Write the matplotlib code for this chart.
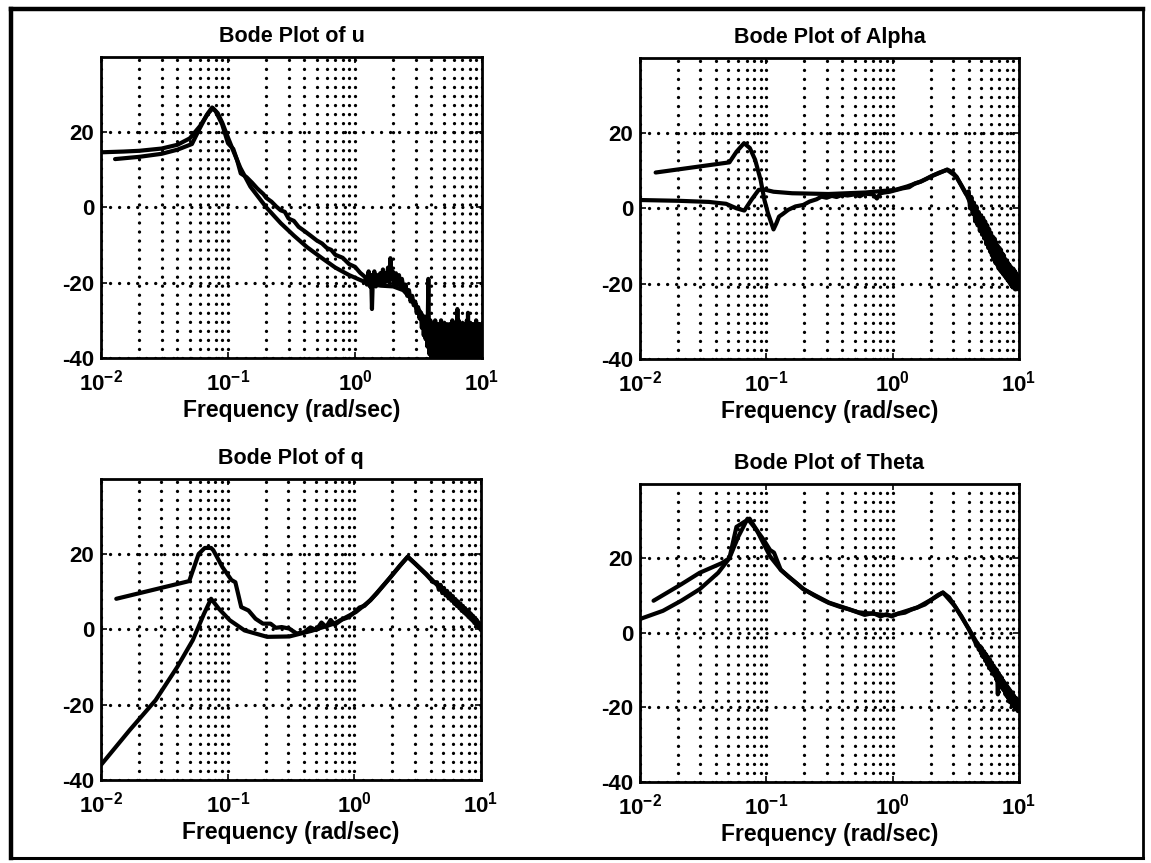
import matplotlib
matplotlib.use("Agg")
import matplotlib.pyplot as plt
from matplotlib.lines import Line2D
from matplotlib.ticker import FixedLocator, LogLocator, NullFormatter

plt.rcParams["font.family"] = ["Liberation Sans", "DejaVu Sans"]
plt.rcParams["font.weight"] = "bold"
plt.rcParams["mathtext.fontset"] = "custom"
plt.rcParams["mathtext.rm"] = "Liberation Sans:bold"
plt.rcParams["mathtext.bf"] = "Liberation Sans:bold"
plt.rcParams["mathtext.it"] = "Liberation Sans:bold:italic"
plt.rcParams["mathtext.default"] = "bf"

# (freq rad/s, magnitude dB)
u_model = [(0.01, 14.6), (0.015, 14.8), (0.02, 15.0), (0.03, 15.6), (0.04, 16.6), (0.05, 18.3),
           (0.06, 21.5), (0.07, 25.0), (0.076, 26.3), (0.083, 25.0), (0.09, 22.5), (0.1, 18.5),
           (0.11, 15.0), (0.125, 10.5), (0.15, 5.5), (0.2, 0.0), (0.26, -4.2), (0.33, -7.5),
           (0.42, -10.6), (0.55, -13.5), (0.7, -16.0), (0.9, -18.0), (1.1, -19.3), (1.3, -20.3),
           (1.6, -20.8), (2.0, -21.0), (2.4, -22.0), (2.8, -24.5), (3.3, -28.0), (4.0, -33.0),
           (5.0, -38.0), (6.0, -41.0)]
u_data = [(0.0129, 12.8), (0.02, 13.4), (0.03, 14.2), (0.04, 15.3), (0.052, 16.8), (0.06, 21.0),
          (0.068, 24.5), (0.075, 26.5), (0.08, 25.5), (0.09, 22.0), (0.1, 17.0), (0.11, 15.5),
          (0.118, 12.5), (0.126, 9.0), (0.14, 8.0), (0.155, 6.5), (0.17, 5.0), (0.19, 3.5),
          (0.2, 2.5), (0.22, 1.5), (0.24, 0.2), (0.26, -0.8), (0.28, -1.2), (0.3, -3.0),
          (0.33, -3.6), (0.36, -5.2), (0.4, -6.3), (0.45, -7.6), (0.5, -8.8), (0.55, -9.6),
          (0.6, -10.8), (0.65, -11.3), (0.7, -12.6), (0.8, -13.4), (0.9, -15.1), (1.0, -15.8),
          (1.1, -17.4), (1.20, -18.5), (1.24, -20.5), (1.28, -17.0), (1.31, -21.0), (1.34, -18.0),
          (1.36, -27.0), (1.38, -19.5), (1.42, -17.0), (1.46, -21.0), (1.50, -18.0), (1.54, -20.5),
          (1.58, -17.5), (1.62, -20.0), (1.66, -16.5), (1.70, -20.5), (1.74, -17.5), (1.78, -19.5),
          (1.82, -16.0), (1.86, -20.0), (1.90, -13.5), (1.94, -19.0), (1.98, -17.0), (2.04, -20.5),
          (2.10, -17.5), (2.16, -20.5), (2.22, -18.0), (2.28, -21.0), (2.34, -19.0), (2.42, -22.0),
          (2.50, -20.5), (2.58, -23.5), (2.66, -22.0), (2.74, -25.0), (2.82, -23.5), (2.90, -26.0),
          (2.98, -25.0), (3.06, -28.0), (3.14, -26.5), (3.22, -29.5),
          (3.30, -28), (3.36, -32), (3.42, -29), (3.48, -34), (3.54, -29), (3.60, -35), (3.66, -30),
          (3.72, -37), (3.78, -19), (3.82, -33), (3.86, -39), (3.92, -30), (3.98, -40), (4.04, -31),
          (4.10, -41), (4.16, -32), (4.22, -41), (4.28, -30), (4.34, -41), (4.40, -32), (4.46, -41),
          (4.52, -31), (4.58, -41), (4.64, -33), (4.70, -41), (4.76, -30), (4.82, -41), (4.88, -32),
          (4.94, -41), (5.00, -31), (5.07, -41), (5.14, -33), (5.21, -41), (5.28, -31), (5.35, -41),
          (5.42, -33), (5.49, -41), (5.56, -31), (5.63, -41), (5.70, -32), (5.77, -41), (5.84, -30),
          (5.91, -41), (5.98, -33), (6.05, -41), (6.12, -31), (6.19, -41), (6.26, -32), (6.33, -41),
          (6.40, -27), (6.47, -41), (6.54, -30), (6.61, -41), (6.68, -31), (6.75, -41), (6.82, -33),
          (6.89, -41), (6.96, -31), (7.04, -41), (7.12, -32), (7.20, -41), (7.28, -31), (7.36, -41),
          (7.44, -33), (7.52, -41), (7.60, -30), (7.68, -41), (7.76, -28), (7.84, -41), (7.92, -31),
          (8.00, -41), (8.09, -32), (8.18, -41), (8.27, -31), (8.36, -41), (8.45, -33), (8.54, -41),
          (8.63, -31), (8.72, -41), (8.81, -32), (8.90, -41), (8.99, -30), (9.08, -41), (9.17, -33),
          (9.26, -41), (9.35, -31), (9.44, -41), (9.53, -32), (9.62, -41), (9.71, -31), (9.80, -41),
          (9.90, -33), (10.0, -38)]

alpha_model = [(0.01, 2.2), (0.02, 2.0), (0.035, 1.7), (0.048, 1.2), (0.058, 0.0), (0.067, -0.6),
               (0.076, 2.2), (0.087, 4.9), (0.096, 5.0), (0.114, 4.4), (0.16, 4.0), (0.31, 3.8),
               (0.61, 4.2), (1.05, 4.9), (1.3, 5.8), (1.67, 7.1), (2.05, 8.6), (2.35, 9.5),
               (2.7, 10.2), (3.2, 8.4), (3.8, 4.0), (4.6, -2.2), (5.6, -8.4), (6.9, -13.8),
               (8.4, -18.0), (10.0, -21.0)]
alpha_data = [(0.0133, 9.5), (0.051, 12.2), (0.058, 15.0), (0.0666, 17.3), (0.074, 16.0),
              (0.0815, 12.9), (0.09, 7.6), (0.0966, 2.2), (0.103, -1.3), (0.114, -5.6),
              (0.12, -4.0), (0.126, -2.2), (0.135, -1.5), (0.149, -0.4), (0.17, 0.5), (0.196, 0.9),
              (0.22, 1.8), (0.25, 2.4), (0.273, 3.1), (0.3, 2.8), (0.33, 3.3), (0.36, 3.0),
              (0.4, 3.6), (0.44, 3.4), (0.5, 3.7), (0.55, 3.2), (0.6, 3.9), (0.7, 3.7), (0.75, 2.6),
              (0.8, 4.0), (0.86, 4.2), (0.95, 4.4), (1.05, 4.8), (1.2, 5.3), (1.35, 5.6), (1.5, 6.6),
              (1.67, 7.1), (1.85, 7.8), (2.05, 8.6), (2.35, 9.4), (2.7, 10.3), (3.0, 9.5), (3.2, 8.3),
              (3.5, 6.0), (3.8, 3.8), (4.0, 4.5), (4.1, 0.0), (4.2, 3.0), (4.3, -1.5), (4.4, 1.5),
              (4.5, -3.5), (4.6, 0.5), (4.7, -4.5), (4.8, -1.0), (4.9, -6.0), (5.0, -2.0), (5.1, -7.0),
              (5.2, -2.5), (5.3, -8.0), (5.4, -3.5), (5.5, -9.5), (5.6, -4.5), (5.7, -10.5),
              (5.8, -5.5), (5.9, -11.5), (6.0, -6.5), (6.1, -12.5), (6.2, -7.5), (6.3, -13.5),
              (6.4, -8.0), (6.5, -14.5), (6.6, -9.0), (6.7, -15.0), (6.8, -10.0), (6.9, -16.0),
              (7.0, -10.5), (7.1, -16.5), (7.2, -11.0), (7.3, -17.0), (7.4, -12.0), (7.5, -17.5),
              (7.6, -12.5), (7.7, -18.0), (7.8, -13.5), (7.9, -18.5), (8.0, -14.0), (8.1, -19.0),
              (8.2, -14.5), (8.3, -19.5), (8.4, -15.0), (8.5, -20.0), (8.6, -15.5), (8.7, -20.5),
              (8.8, -16.0), (8.9, -21.0), (9.0, -16.0), (9.1, -21.0), (9.2, -16.5), (9.3, -21.5),
              (9.4, -17.0), (9.5, -21.5), (9.6, -17.5), (9.7, -21.0), (9.8, -18.0), (9.9, -21.5),
              (10.0, -19.5)]

q_model = [(0.01, -36.0), (0.0169, -26.7), (0.027, -18.8), (0.04, -10.0), (0.053, -2.9),
           (0.065, 4.1), (0.074, 8.1), (0.085, 5.5), (0.104, 2.4), (0.136, -0.3), (0.205, -2.0),
           (0.307, -1.9), (0.46, -0.4), (0.69, 1.5), (1.03, 4.6), (1.34, 7.7), (1.88, 13.4),
           (2.64, 19.3), (3.7, 14.7), (5.1, 9.9), (7.2, 5.0), (10.0, 0.6)]
q_data = [(0.0132, 8.1), (0.0497, 12.8), (0.059, 20.0), (0.066, 21.6), (0.074, 21.6), (0.077, 21.0),
          (0.091, 16.5), (0.107, 13.1), (0.115, 12.5), (0.128, 5.9), (0.146, 5.0), (0.166, 2.8),
          (0.19, 1.5), (0.218, 1.5), (0.24, 0.4), (0.267, 0.6), (0.306, 0.2), (0.35, -1.1),
          (0.4, -0.8), (0.45, 0.5), (0.5, -0.2), (0.55, 1.8), (0.6, 0.6), (0.65, 2.5), (0.7, 1.2),
          (0.8, 2.6), (0.9, 3.2), (1.0, 4.5), (1.1, 5.8), (1.2, 6.2), (1.34, 7.8), (1.5, 9.5),
          (1.88, 13.4), (2.3, 17.0), (2.64, 19.2), (3.0, 17.5), (3.7, 14.5), (4.2, 12.5),
          (4.5, 12.5), (4.65, 10.5), (4.8, 11.8), (4.95, 9.6), (5.1, 11.0), (5.25, 9.0), (5.4, 10.2),
          (5.55, 8.2), (5.7, 9.5), (5.85, 7.6), (6.0, 8.8), (6.15, 6.8), (6.3, 8.0), (6.45, 6.2),
          (6.6, 7.4), (6.75, 5.6), (6.9, 6.8), (7.05, 4.9), (7.2, 6.2), (7.35, 4.4), (7.5, 5.6),
          (7.65, 3.9), (7.8, 5.0), (7.95, 3.3), (8.1, 4.6), (8.25, 2.8), (8.4, 4.0), (8.55, 2.3),
          (8.7, 3.5), (8.85, 1.7), (9.0, 3.0), (9.15, 1.2), (9.3, 2.4), (9.45, 0.7), (9.6, 1.8),
          (9.75, 0.2), (9.9, 1.2), (10.0, -0.2)]

theta_model = [(0.01, 3.7), (0.0152, 5.9), (0.0212, 8.6), (0.0297, 11.7), (0.0416, 16.1),
               (0.051, 20.0), (0.06, 25.8), (0.071, 30.6), (0.084, 27.5), (0.107, 20.5),
               (0.13, 16.9), (0.196, 11.7), (0.313, 8.1), (0.536, 5.5), (0.98, 4.6), (1.57, 6.8),
               (2.05, 9.0), (2.5, 10.8), (3.1, 7.2), (4.0, 1.1), (5.3, -6.0), (6.9, -11.3),
               (9.0, -16.6), (10.0, -19.2)]
theta_data = [(0.0128, 8.6), (0.0212, 13.0), (0.0297, 16.1), (0.0445, 18.7), (0.051, 20.0),
              (0.058, 28.4), (0.0666, 29.7), (0.0737, 30.6), (0.084, 27.5), (0.095, 25.0),
              (0.107, 22.2), (0.115, 21.5), (0.13, 16.9), (0.15, 15.0), (0.175, 13.2), (0.196, 11.8),
              (0.24, 10.0), (0.28, 8.8), (0.313, 8.0), (0.38, 7.0), (0.45, 6.3), (0.536, 5.4),
              (0.6, 4.8), (0.7, 5.3), (0.8, 4.4), (0.9, 5.0), (0.98, 4.4), (1.1, 5.1), (1.25, 5.4),
              (1.4, 6.2), (1.57, 6.8), (1.8, 7.6), (2.05, 9.0), (2.3, 10.2), (2.5, 10.8), (2.8, 9.5),
              (3.1, 7.2), (3.5, 4.5), (4.0, 1.0), (4.5, -2.5), (4.6, -3.5), (4.7, -2.8), (4.8, -4.5),
              (4.9, -3.5), (5.0, -5.5), (5.1, -4.2), (5.2, -6.5), (5.3, -5.0), (5.4, -7.5),
              (5.5, -5.8), (5.6, -8.5), (5.7, -6.5), (5.8, -9.5), (5.9, -7.2), (6.0, -10.0),
              (6.1, -8.0), (6.2, -10.8), (6.3, -8.8), (6.4, -11.5), (6.5, -9.5), (6.6, -12.5),
              (6.7, -10.0), (6.8, -16.5), (6.9, -10.8), (7.0, -13.5), (7.1, -11.5), (7.2, -14.5),
              (7.3, -12.0), (7.4, -15.0), (7.5, -12.8), (7.6, -15.5), (7.7, -13.5), (7.8, -16.5),
              (7.9, -14.0), (8.0, -17.0), (8.1, -14.5), (8.2, -17.5), (8.3, -15.0), (8.4, -18.5),
              (8.5, -15.5), (8.6, -18.5), (8.7, -16.0), (8.8, -19.5), (8.9, -16.5), (9.0, -19.5),
              (9.1, -17.0), (9.2, -20.0), (9.3, -17.5), (9.4, -20.5), (9.5, -17.5), (9.6, -20.5),
              (9.7, -18.0), (9.8, -21.0), (9.9, -18.0), (10.0, -20.0)]

titles = ["Bode Plot of u", "Bode Plot of Alpha", "Bode Plot of q", "Bode Plot of Theta"]
curves = [(u_model, u_data), (alpha_model, alpha_data), (q_model, q_data), (theta_model, theta_data)]
xticks = [0.01, 0.1, 1, 10]
xticklabels = [r"$10^{-2}$", r"$10^{-1}$", r"$10^{0}$", r"$10^{1}$"]
yticks = [-40, -20, 0, 20]

W, H = 1151, 863
fig = plt.figure(figsize=(W / 100, H / 100), dpi=100)
fig.patch.set_facecolor("white")

# axes boxes in pixels: x0, y0(top), x1, y1(bottom)
boxes = [(101, 57, 482, 358), (640, 58, 1019, 359), (101, 479, 481, 780), (640, 484, 1019, 782)]

# outer frame: heavier on the left and top, as in the scan
fl, fr, ft, fb = 11 / W, 1143 / W, 1 - 9 / H, 1 - 858 / H
for xs, ys, lw in [([fl, fl], [fb, ft], 3.2), ([fl, fr], [ft, ft], 3.2),
                   ([fr, fr], [fb, ft], 2.0), ([fl, fr], [fb, fb], 2.2)]:
    fig.lines.append(Line2D(xs, ys, transform=fig.transFigure, color="black", lw=lw,
                            solid_capstyle="projecting"))

dots = (0, (0.01, 2.7))
for (x0, y0, x1, y1), title, (model, data) in zip(boxes, titles, curves):
    ax = fig.add_axes([x0 / W, 1 - y1 / H, (x1 - x0) / W, (y1 - y0) / H])
    ax.set_xscale("log")
    for series in (model, data):
        ax.plot([p[0] for p in series], [p[1] for p in series], color="black", lw=3.0,
                solid_joinstyle="round", solid_capstyle="round")
    ax.set_xlim(0.01, 10)
    ax.set_ylim(-40, 39.9)
    ax.xaxis.set_major_locator(FixedLocator(xticks))
    ax.set_xticklabels(xticklabels)
    ax.xaxis.set_minor_locator(LogLocator(base=10, subs=range(2, 10)))
    ax.xaxis.set_minor_formatter(NullFormatter())
    ax.set_yticks(yticks)
    ax.set_yticklabels([str(v) for v in yticks])
    ax.grid(True, which="both", axis="x", color="black", lw=2.4, ls=dots, dash_capstyle="round")
    ax.grid(True, which="major", axis="y", color="black", lw=2.4, ls=dots, dash_capstyle="round")
    ax.tick_params(which="major", direction="in", length=4, width=1.2, labelsize=16,
                   top=True, right=True)
    ax.tick_params(axis="x", which="major", pad=8)
    ax.tick_params(axis="y", which="major", pad=5)
    ax.tick_params(which="minor", length=0)
    for s in ax.spines.values():
        s.set_linewidth(2.0)
    ax.set_title(title, fontsize=15.5, fontweight="bold", pad=11)
    ax.set_xlabel("Frequency (rad/sec)", fontsize=16.5, fontweight="bold", labelpad=3)

fig.savefig("out.png", dpi=100, facecolor="white")
